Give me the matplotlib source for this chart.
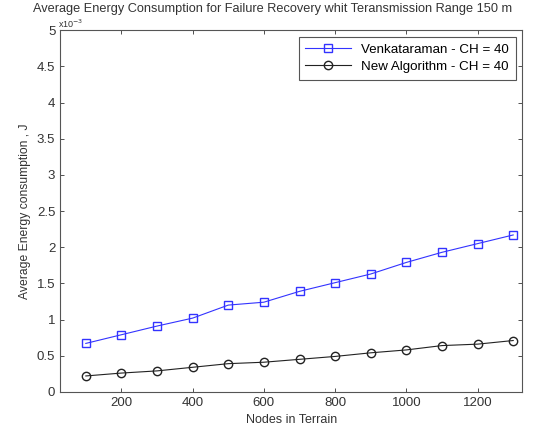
import matplotlib
matplotlib.use('Agg')
import matplotlib.pyplot as plt

plt.rcParams['font.family'] = ['Liberation Sans', 'DejaVu Sans']
plt.rcParams['font.size'] = 9

nodes = [100, 200, 300, 400, 500, 600, 700, 800, 900, 1000, 1100, 1200, 1300]
venkataraman = [0.67, 0.79, 0.91, 1.02, 1.20, 1.24, 1.39, 1.51, 1.63, 1.79, 1.93, 2.05, 2.17]
new_algorithm = [0.22, 0.26, 0.29, 0.34, 0.39, 0.41, 0.45, 0.49, 0.54, 0.58, 0.64, 0.66, 0.71]

fig = plt.figure(figsize=(5.57, 4.33), dpi=100)
ax = fig.add_axes([0.108, 0.095, 0.83, 0.835])

ax.plot(nodes, venkataraman, color='#3333ff', marker='s', markersize=6,
        markerfacecolor='none', linewidth=0.8, label='Venkataraman - CH = 40')
ax.plot(nodes, new_algorithm, color='#222222', marker='o', markersize=6,
        markerfacecolor='none', linewidth=0.8, label='New Algorithm - CH = 40')

ax.set_xlim(28, 1326)
ax.set_ylim(0, 5)
ax.set_xticks([200, 400, 600, 800, 1000, 1200])
ax.set_yticks([0, 0.5, 1, 1.5, 2, 2.5, 3, 3.5, 4, 4.5, 5])
ax.set_yticklabels(['0', '0.5', '1', '1.5', '2', '2.5', '3', '3.5', '4', '4.5', '5'])
ax.tick_params(direction='in', top=True, right=True, length=3, width=0.6,
               colors='#333333', labelsize=9.5)
for s in ax.spines.values():
    s.set_color('#555555')
    s.set_linewidth(0.8)

ax.set_xlabel('Nodes in Terrain', color='#333333')
ax.set_ylabel('Average Energy consumption , J', color='#333333', fontsize=8.7)
ax.set_title('Average Energy Consumption for Failure Recovery whit Teransmission Range 150 m',
             fontsize=9.2, color='#333333', x=0.46, pad=13)
ax.text(-0.005, 1.0, 'x10$^{-3}$', transform=ax.transAxes, fontsize=6.5, color='#333333',
        ha='left', va='bottom')

leg = ax.legend(loc='upper right', fancybox=False, edgecolor='#555555', framealpha=1,
                handlelength=3.4, borderpad=0.5, labelspacing=0.35, fontsize=9.6)
leg.get_frame().set_linewidth(0.8)

fig.savefig('out.png', dpi=100)
